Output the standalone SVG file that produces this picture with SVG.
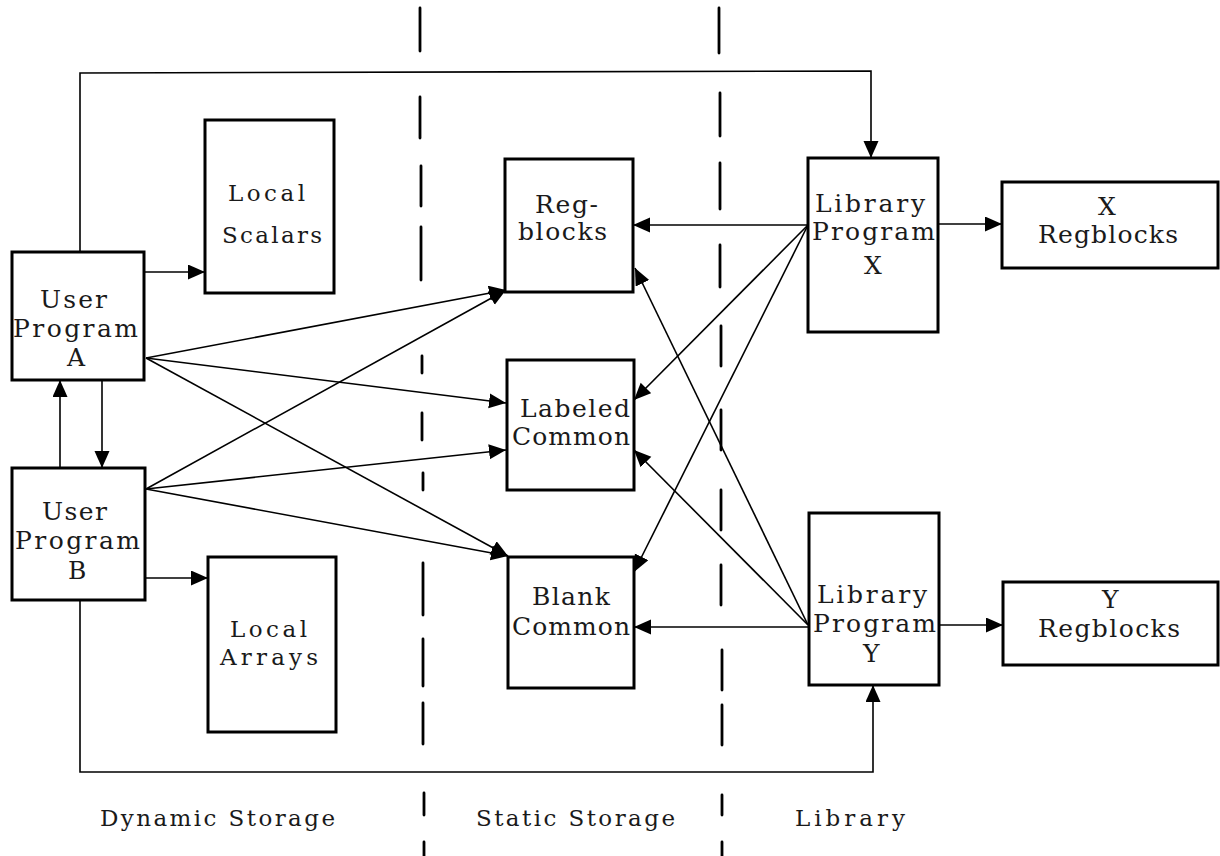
<svg xmlns="http://www.w3.org/2000/svg" width="1220" height="856" viewBox="0 0 1220 856">
  <style>
    .box { fill: #fff; stroke: #000; stroke-width: 3; }
    .lbl { font-family: "DejaVu Serif", "Liberation Serif", serif; font-size: 25px; fill: #1a1a1a; }
    .sm { font-size: 23px; }
    .cap { font-family: "DejaVu Serif", "Liberation Serif", serif; font-size: 23px; fill: #1a1a1a; }
    .edge { fill: none; stroke: #000; stroke-width: 1.6; }
    .arr { marker-end: url(#head); }
    .dash { stroke: #000; stroke-width: 2.8; stroke-linecap: round; }
  </style>
  <defs>
    <marker id="head" markerUnits="userSpaceOnUse" markerWidth="18" markerHeight="16" refX="17" refY="7.5" orient="auto">
      <path d="M0,0 L17,7.5 L0,15 z" fill="#000"/>
    </marker>
  </defs>
  <rect width="1220" height="856" fill="#fff"/>

  <!-- region dividers -->
  <g id="dividers">
    <line class="dash" x1="420" y1="8" x2="420" y2="51"/>
    <line class="dash" x1="420" y1="97" x2="420" y2="138"/>
    <line class="dash" x1="421" y1="166" x2="421" y2="206"/>
    <line class="dash" x1="421" y1="227" x2="421" y2="280"/>
    <line class="dash" x1="422" y1="356" x2="422" y2="373"/>
    <line class="dash" x1="422" y1="413" x2="422" y2="440"/>
    <line class="dash" x1="423" y1="473" x2="423" y2="490"/>
    <line class="dash" x1="423" y1="563" x2="423" y2="615"/>
    <line class="dash" x1="423" y1="639" x2="423" y2="686"/>
    <line class="dash" x1="423" y1="703" x2="423" y2="744"/>
    <line class="dash" x1="424" y1="793" x2="424" y2="815"/>
    <line class="dash" x1="424" y1="842" x2="424" y2="856"/>

    <line class="dash" x1="719" y1="8" x2="719" y2="53"/>
    <line class="dash" x1="720" y1="93" x2="720" y2="136"/>
    <line class="dash" x1="720" y1="163" x2="720" y2="209"/>
    <line class="dash" x1="720" y1="245" x2="720" y2="287"/>
    <line class="dash" x1="721" y1="326" x2="721" y2="366"/>
    <line class="dash" x1="721" y1="410" x2="721" y2="450"/>
    <line class="dash" x1="721" y1="490" x2="721" y2="530"/>
    <line class="dash" x1="721" y1="565" x2="721" y2="605"/>
    <line class="dash" x1="722" y1="650" x2="722" y2="690"/>
    <line class="dash" x1="722" y1="705" x2="722" y2="745"/>
    <line class="dash" x1="722" y1="795" x2="722" y2="815"/>
    <line class="dash" x1="722" y1="842" x2="722" y2="856"/>
  </g>

  <!-- connectors -->
  <g id="connectors">
    <polyline class="edge arr" points="80,252 80,73 871,71 871,158"/>
    <polyline class="edge arr" points="80,600 80,772 873,772 873,685"/>
    <line class="edge arr" x1="60" y1="468" x2="60" y2="380"/>
    <line class="edge arr" x1="102" y1="380" x2="102" y2="468"/>
    <line class="edge arr" x1="145" y1="272" x2="205" y2="272"/>
    <line class="edge arr" x1="145" y1="578" x2="208" y2="578"/>

    <line class="edge arr" x1="146" y1="358" x2="506" y2="290"/>
    <line class="edge arr" x1="146" y1="358" x2="506" y2="403"/>
    <line class="edge arr" x1="146" y1="358" x2="508" y2="556"/>
    <line class="edge arr" x1="146" y1="489" x2="506" y2="290"/>
    <line class="edge arr" x1="146" y1="489" x2="506" y2="450"/>
    <line class="edge arr" x1="146" y1="489" x2="508" y2="556"/>

    <line class="edge arr" x1="808" y1="225" x2="633" y2="225"/>
    <line class="edge arr" x1="808" y1="225" x2="634" y2="400"/>
    <line class="edge arr" x1="808" y1="225" x2="634" y2="572"/>
    <line class="edge arr" x1="808" y1="625" x2="635" y2="268"/>
    <line class="edge arr" x1="808" y1="625" x2="634" y2="450"/>
    <line class="edge arr" x1="808" y1="627" x2="634" y2="627"/>

    <line class="edge arr" x1="938" y1="224" x2="1002" y2="224"/>
    <line class="edge arr" x1="939" y1="625" x2="1003" y2="625"/>
  </g>

  <!-- nodes -->
  <g id="user-a">
    <rect class="box" x="12" y="252" width="132" height="128"/>
    <text class="lbl" x="40" y="308" textLength="67" lengthAdjust="spacing">User</text>
    <text class="lbl" x="13" y="337" textLength="125" lengthAdjust="spacing">Program</text>
    <text class="lbl" x="67" y="366">A</text>
  </g>
  <g id="user-b">
    <rect class="box" x="12" y="468" width="133" height="132"/>
    <text class="lbl" x="42" y="520" textLength="65" lengthAdjust="spacing">User</text>
    <text class="lbl" x="15" y="549" textLength="125" lengthAdjust="spacing">Program</text>
    <text class="lbl" x="68" y="579">B</text>
  </g>
  <g id="local-scalars">
    <rect class="box" x="205" y="120" width="129" height="173"/>
    <text class="lbl sm" x="228" y="201" textLength="77" lengthAdjust="spacing">Local</text>
    <text class="lbl sm" x="222" y="243" textLength="100" lengthAdjust="spacing">Scalars</text>
  </g>
  <g id="local-arrays">
    <rect class="box" x="208" y="557" width="128" height="175"/>
    <text class="lbl sm" x="230" y="637" textLength="77" lengthAdjust="spacing">Local</text>
    <text class="lbl sm" x="220" y="665" textLength="98" lengthAdjust="spacing">Arrays</text>
  </g>
  <g id="regblocks">
    <rect class="box" x="505" y="159" width="128" height="133"/>
    <text class="lbl" x="535" y="213" textLength="63" lengthAdjust="spacing">Reg-</text>
    <text class="lbl" x="518" y="240" textLength="89" lengthAdjust="spacing">blocks</text>
  </g>
  <g id="labeled-common">
    <rect class="box" x="507" y="360" width="127" height="130"/>
    <text class="lbl" x="520" y="417" textLength="110" lengthAdjust="spacing">Labeled</text>
    <text class="lbl" x="512" y="445" textLength="118" lengthAdjust="spacing">Common</text>
  </g>
  <g id="blank-common">
    <rect class="box" x="508" y="557" width="126" height="131"/>
    <text class="lbl" x="532" y="605" textLength="78" lengthAdjust="spacing">Blank</text>
    <text class="lbl" x="512" y="635" textLength="118" lengthAdjust="spacing">Common</text>
  </g>
  <g id="library-x">
    <rect class="box" x="808" y="158" width="130" height="174"/>
    <text class="lbl" x="815" y="212" textLength="110" lengthAdjust="spacing">Library</text>
    <text class="lbl" x="812" y="240" textLength="123" lengthAdjust="spacing">Program</text>
    <text class="lbl" x="864" y="274">X</text>
  </g>
  <g id="library-y">
    <rect class="box" x="809" y="513" width="130" height="172"/>
    <text class="lbl" x="817" y="603" textLength="110" lengthAdjust="spacing">Library</text>
    <text class="lbl" x="813" y="632" textLength="123" lengthAdjust="spacing">Program</text>
    <text class="lbl" x="863" y="662">Y</text>
  </g>
  <g id="x-regblocks">
    <rect class="box" x="1002" y="182" width="216" height="86"/>
    <text class="lbl" x="1098" y="215">X</text>
    <text class="lbl" x="1038" y="243" textLength="140" lengthAdjust="spacing">Regblocks</text>
  </g>
  <g id="y-regblocks">
    <rect class="box" x="1003" y="582" width="215" height="83"/>
    <text class="lbl" x="1102" y="608">Y</text>
    <text class="lbl" x="1038" y="637" textLength="142" lengthAdjust="spacing">Regblocks</text>
  </g>

  <!-- region captions -->
  <g id="captions">
    <text class="cap" x="100" y="826" textLength="235" lengthAdjust="spacing">Dynamic Storage</text>
    <text class="cap" x="476" y="826" textLength="199" lengthAdjust="spacing">Static Storage</text>
    <text class="cap" x="795" y="826" textLength="110" lengthAdjust="spacing">Library</text>
  </g>
</svg>
